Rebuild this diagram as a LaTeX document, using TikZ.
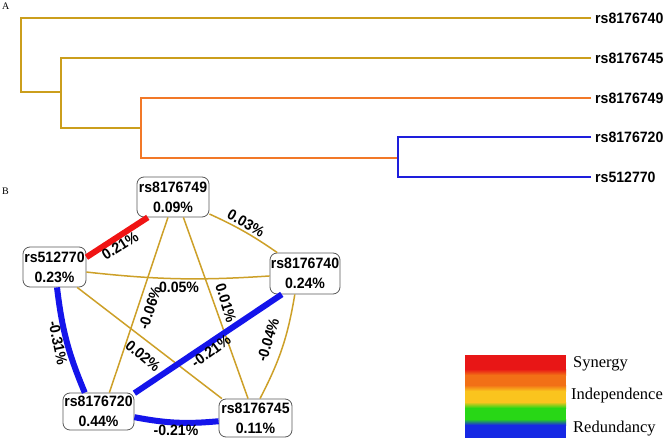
\documentclass[tikz,border=0pt]{standalone}
\usepackage{fontspec}
\setmainfont{Liberation Serif}
\newfontfamily\lbl[FakeStretch=0.94]{Liberation Sans}
\newcommand\lblfont{\lbl\bfseries\fontsize{15}{20}\selectfont}
\definecolor{dgold}{RGB}{203,158,28}
\definecolor{dorange}{RGB}{242,120,40}
\definecolor{dblue}{RGB}{30,30,220}
\definecolor{ered}{RGB}{240,20,20}
\definecolor{eblue}{RGB}{20,20,235}
\definecolor{egold}{RGB}{205,160,40}
\definecolor{lred}{RGB}{232,22,22}
\definecolor{lorange}{RGB}{242,112,22}
\definecolor{lyellow}{RGB}{250,196,30}
\definecolor{lgreen}{RGB}{40,215,22}
\definecolor{lblue}{RGB}{22,40,228}
\begin{document}
\begin{tikzpicture}[x=1pt,y=-1pt,
  dline/.style={line width=2pt, line join=miter},
  box/.style={draw=black!65, line width=0.8pt, rounded corners=7pt, fill=white, align=center, inner sep=0pt, font=\lblfont},
  elab/.style={font=\lblfont, inner sep=0pt},
  leaf/.style={anchor=west, inner sep=0pt, font=\lblfont},
  weak/.style={draw=egold, line width=1.5pt},
  strong/.style={line width=6pt},
  legtext/.style={anchor=base west, inner sep=0pt, font=\fontsize{16.5}{18}\selectfont},
  panel/.style={anchor=base west, inner sep=0pt, font=\fontsize{10}{12}\selectfont}]
\useasboundingbox (0,0) rectangle (669,443);
\fill[white] (0,0) rectangle (669,443);
% panel labels
\node[panel] (pA) at (2,10) {A};
\node[panel] (pB) at (2,195) {B};
% dendrogram
\node[leaf] (L40) at (595,18) {rs8176740};
\node[leaf] (L45) at (595,58) {rs8176745};
\node[leaf] (L49) at (595,98) {rs8176749};
\node[leaf] (L20) at (595,137) {rs8176720};
\node[leaf] (L70) at (595,177) {rs512770};
\coordinate (j1) at (21,92);
\coordinate (j2) at (61,128);
\coordinate (j3) at (141,158);
\coordinate (j4) at (398,177);
\draw[dline, dgold] ([xshift=-4pt]L40.west) -| (j1) -- (j2 |- j1);
\draw[dline, dgold] ([xshift=-4pt]L45.west) -| (j2) -- (j3 |- j2);
\draw[dline, dorange] ([xshift=-4pt]L49.west) -| (j3) -- (j4 |- j3);
\draw[dline, dblue] ([xshift=-4pt]L20.west) -| (j4) -- ([xshift=-4pt]L70.west);
% network nodes
\node[box, minimum width=72pt, minimum height=40pt] (n49) at (173,197) {rs8176749\\0.09\%};
\node[box, minimum width=63pt, minimum height=40pt] (n70) at (54.5,267) {rs512770\\0.23\%};
\node[box, minimum width=70pt, minimum height=41pt] (n40) at (305,273.5) {rs8176740\\0.24\%};
\node[box, minimum width=71pt, minimum height=37pt] (n20) at (98.5,411.5) {rs8176720\\0.44\%};
\node[box, minimum width=73pt, minimum height=38pt] (n45) at (255.5,418) {rs8176745\\0.11\%};
% network edges
\draw[strong, ered] (n70.17) -- (n49.219);
\draw[weak] (n49.-25) to[bend left=5] (n40.143);
\draw[weak] (n70.-9) to[bend right=5] (n40.184);
\draw[weak] (n49.256) -- (n20.60);
\draw[weak] (n49.-63) -- (n45.111);
\draw[weak] (n70.-42) -- (n45.150);
\draw[strong, eblue] (n40.222) -- (n20.27);
\draw[weak] (n40.244) to[bend left=9] (n45.77);
\draw[strong, eblue] (n70.-83) to[bend right=8] (n20.126);
\draw[strong, eblue] (n20.-9) to[bend right=8] (n45.185);
% edge labels
\node[elab, rotate=32] (t1) at (120,246) {0.21\%};
\node[elab, rotate=-30] (t2) at (246,223) {0.03\%};
\node[elab] (t3) at (179,287) {0.05\%};
\node[elab, rotate=72] (t4) at (150,308) {-0.06\%};
\node[elab, rotate=-73] (t5) at (226,303) {0.01\%};
\node[elab, rotate=-40] (t6) at (143,356) {0.02\%};
\node[elab, rotate=36] (t7) at (211,351) {-0.21\%};
\node[elab, rotate=73] (t8) at (268,340) {-0.04\%};
\node[elab, rotate=-78] (t9) at (58,343) {-0.31\%};
\node[elab] (t10) at (176,430) {-0.21\%};
% legend
\fill[lred] (465,355) rectangle (566,372);
\fill[lorange] (465,372) rectangle (566,388);
\fill[lyellow] (465,388) rectangle (566,405);
\fill[lgreen] (465,405) rectangle (566,422);
\fill[lblue] (465,422) rectangle (566,438);
\shade[top color=lred, bottom color=lorange] (465,369) rectangle (566,375);
\shade[top color=lorange, bottom color=lyellow] (465,385) rectangle (566,391);
\shade[top color=lyellow, bottom color=lgreen] (465,402) rectangle (566,408);
\shade[top color=lgreen, bottom color=lblue] (465,419) rectangle (566,425);
\node[legtext] (s1) at (573,367) {Synergy};
\node[legtext] (s2) at (571,399) {Independence};
\node[legtext] (s3) at (573,432) {Redundancy};
\end{tikzpicture}
\end{document}
